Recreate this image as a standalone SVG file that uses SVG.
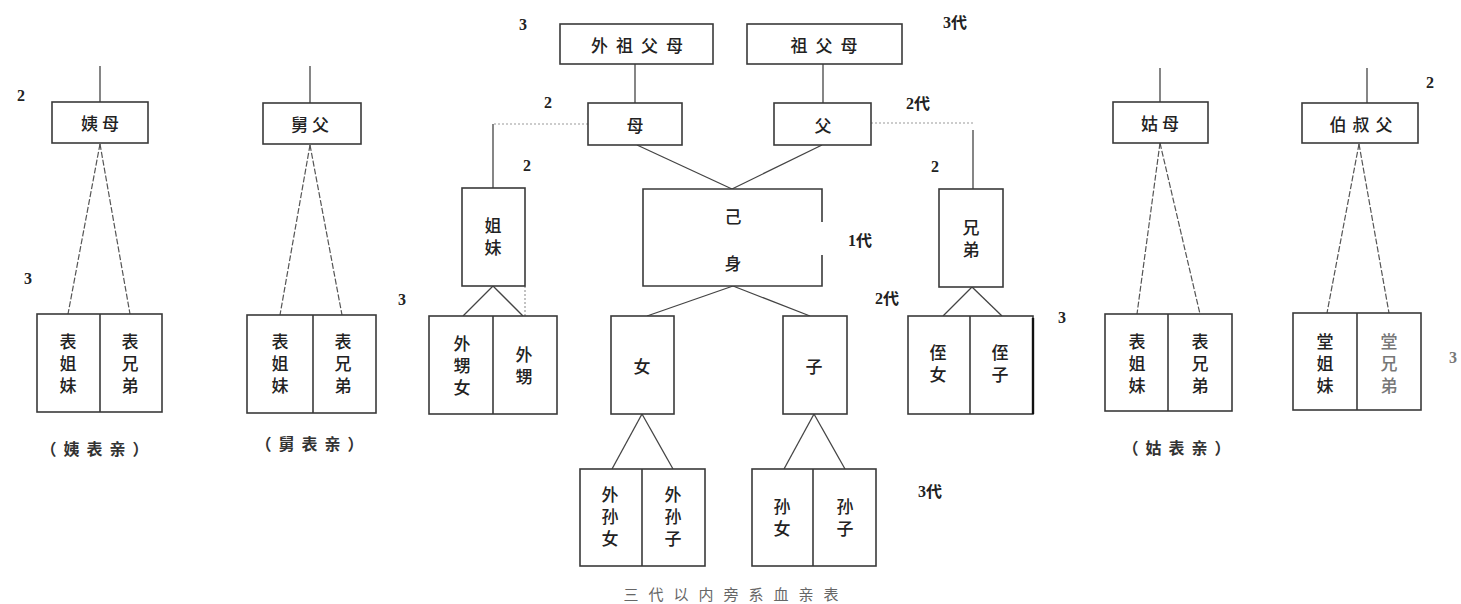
<svg xmlns="http://www.w3.org/2000/svg" width="1461" height="604" viewBox="0 0 1461 604">
<style>
.box{fill:#fff;stroke:#3a3a3a;stroke-width:1.6}
.ln{stroke:#444;stroke-width:1.3;fill:none}
.dash{stroke:#555;stroke-width:1.2;fill:none;stroke-dasharray:6 2}
.dot{stroke:#9a9a9a;stroke-width:1.2;fill:none;stroke-dasharray:2 2}
.t{font-family:"Noto Sans CJK SC","Noto Sans CJK JP",sans-serif;font-size:17px;font-weight:500;fill:#222;text-anchor:middle;dominant-baseline:central}
.v{writing-mode:vertical-rl;letter-spacing:5px}
.h{letter-spacing:8px}
.n{font-family:"Liberation Serif","Noto Sans CJK SC",serif;font-weight:bold;font-size:16px;fill:#222;text-anchor:middle;dominant-baseline:central}
.c{font-family:"Noto Sans CJK SC",sans-serif;font-size:16px;font-weight:bold;fill:#333;text-anchor:middle;dominant-baseline:central;letter-spacing:7px}
.cap{font-family:"Noto Sans CJK SC",sans-serif;font-size:15px;fill:#666;text-anchor:middle;dominant-baseline:central;letter-spacing:10px}
.lt{fill:#777}
</style>

<g id="connectors">
  <line class="ln" x1="100" y1="66" x2="100" y2="102"/>
  <line class="ln" x1="310" y1="66" x2="310" y2="103" stroke="#888"/>
  <line class="ln" x1="1160" y1="68" x2="1160" y2="102"/>
  <line class="ln" x1="1367" y1="68" x2="1367" y2="103"/>
  <line class="ln" x1="635" y1="64" x2="635" y2="103"/>
  <line class="ln" x1="823" y1="64" x2="823" y2="103"/>
  <line class="ln" x1="637" y1="145" x2="732" y2="189"/>
  <line class="ln" x1="822" y1="145" x2="732" y2="189"/>
  <line class="dot" x1="588" y1="124" x2="493" y2="124"/>
  <line class="ln" x1="493" y1="124" x2="493" y2="188"/>
  <line class="dot" x1="871" y1="123" x2="973" y2="123"/>
  <line class="ln" x1="973" y1="130" x2="973" y2="189"/>
  <line class="ln" x1="493" y1="286" x2="463" y2="316"/>
  <line class="ln" x1="493" y1="286" x2="523" y2="316"/>
  <line class="dot" x1="525" y1="286" x2="525" y2="316"/>
  <line class="ln" x1="972" y1="287" x2="943" y2="316"/>
  <line class="ln" x1="972" y1="287" x2="1002" y2="316"/>
  <line class="ln" x1="733" y1="286" x2="647" y2="316"/>
  <line class="ln" x1="733" y1="286" x2="810" y2="316"/>
  <line class="ln" x1="642" y1="414" x2="612" y2="469"/>
  <line class="ln" x1="642" y1="414" x2="673" y2="469"/>
  <line class="ln" x1="814" y1="414" x2="784" y2="469"/>
  <line class="ln" x1="814" y1="414" x2="845" y2="469"/>
  <line class="dash" x1="100" y1="144" x2="68" y2="314"/>
  <line class="dash" x1="100" y1="144" x2="130" y2="314"/>
  <line class="dash" x1="310" y1="145" x2="280" y2="315"/>
  <line class="dash" x1="310" y1="145" x2="342" y2="315"/>
  <line class="dash" x1="1160" y1="143" x2="1137" y2="314"/>
  <line class="dash" x1="1160" y1="143" x2="1200" y2="314"/>
  <line class="dash" x1="1359" y1="144" x2="1327" y2="313"/>
  <line class="dash" x1="1359" y1="144" x2="1389" y2="313"/>
</g>

<g id="labels">
  <text class="n" x="21" y="95">2</text>
  <text class="n" x="28" y="278">3</text>
  <text class="n" x="402" y="299">3</text>
  <text class="n" x="523" y="24">3</text>
  <text class="n" x="548" y="102">2</text>
  <text class="n" x="527" y="165">2</text>
  <text class="n" x="955" y="22">3代</text>
  <text class="n" x="918" y="103">2代</text>
  <text class="n" x="860" y="240">1代</text>
  <text class="n" x="935" y="166">2</text>
  <text class="n" x="887" y="298">2代</text>
  <text class="n" x="1062" y="317">3</text>
  <text class="n" x="930" y="491">3代</text>
  <text class="n" x="1430" y="82">2</text>
  <text class="n lt" x="1453" y="357" font-weight="normal">3</text>
</g>

<g id="yimu"><rect class="box" x="52" y="102" width="96" height="41"/><text class="t" x="102" y="122" letter-spacing="4">姨母</text></g>
<g id="yibiao">
  <rect class="box" x="37" y="314" width="125" height="98"/><line class="box" x1="100" y1="314" x2="100" y2="412"/>
  <text class="t v" x="68" y="366">表姐妹</text>
  <text class="t v" x="130" y="366">表兄弟</text>
</g>
<text class="c" x="98" y="448">（姨表亲）</text>

<g id="jiufu"><rect class="box" x="263" y="103" width="98" height="41"/><text class="t" x="312" y="123" letter-spacing="4">舅父</text></g>
<g id="jiubiao">
  <rect class="box" x="247" y="315" width="129" height="98"/><line class="box" x1="313" y1="315" x2="313" y2="413"/>
  <text class="t v" x="280" y="366">表姐妹</text>
  <text class="t v" x="343" y="366">表兄弟</text>
</g>
<text class="c" x="313" y="443">（舅表亲）</text>

<g id="waizufumu"><rect class="box" x="560" y="24" width="153" height="40"/><text class="t h" x="641" y="44">外祖父母</text></g>
<g id="zufumu"><rect class="box" x="747" y="24" width="155" height="40"/><text class="t h" x="828" y="44">祖父母</text></g>
<g id="mu"><rect class="box" x="588" y="103" width="94" height="42"/><text class="t" x="635" y="124">母</text></g>
<g id="fu"><rect class="box" x="774" y="103" width="97" height="42"/><text class="t" x="823" y="124">父</text></g>

<g id="jiemei"><rect class="box" x="462" y="188" width="63" height="98"/>
  <text class="t v" x="493" y="239" letter-spacing="6">姐妹</text></g>
<g id="jishen"><path class="box" d="M822,222 V189 H643 V286 H822 V255"/>
  <text class="t" x="733" y="215">己</text><text class="t" x="733" y="262">身</text></g>
<g id="xiongdi"><rect class="box" x="939" y="189" width="64" height="98"/>
  <text class="t v" x="971" y="241.5" letter-spacing="5">兄弟</text></g>

<g id="waisheng">
  <rect class="box" x="429" y="316" width="128" height="98"/><line class="box" x1="493" y1="316" x2="493" y2="414"/>
  <text class="t v" x="462" y="368" letter-spacing="6">外甥女</text>
  <text class="t v" x="524" y="368.5" letter-spacing="8">外甥</text>
</g>
<g id="nv"><rect class="box" x="611" y="316" width="63" height="98"/><text class="t" x="642" y="365">女</text></g>
<g id="zi"><rect class="box" x="783" y="316" width="64" height="98"/><text class="t" x="814" y="365">子</text></g>
<g id="zhi">
  <rect class="box" x="908" y="316" width="125" height="98"/><line class="box" x1="970" y1="316" x2="970" y2="414"/>
  <line x1="1033" y1="318" x2="1033" y2="414" stroke="#111" stroke-width="2.4"/>
  <text class="t v" x="938" y="366.5">侄女</text>
  <text class="t v" x="1000" y="366.5">侄子</text>
</g>

<g id="waisun">
  <rect class="box" x="580" y="469" width="125" height="97"/><line class="box" x1="642" y1="469" x2="642" y2="566"/>
  <text class="t v" x="610" y="519.5" letter-spacing="7">外孙女</text>
  <text class="t v" x="673" y="519.5" letter-spacing="7">外孙子</text>
</g>
<g id="sun">
  <rect class="box" x="752" y="469" width="124" height="97"/><line class="box" x1="813" y1="469" x2="813" y2="566"/>
  <text class="t v" x="782" y="520" letter-spacing="4">孙女</text>
  <text class="t v" x="845" y="520" letter-spacing="4">孙子</text>
</g>

<g id="gumu"><rect class="box" x="1113" y="102" width="95" height="41"/><text class="t" x="1162" y="122" letter-spacing="4">姑母</text></g>
<g id="gubiao">
  <rect class="box" x="1105" y="314" width="127" height="97"/><line class="box" x1="1168" y1="314" x2="1168" y2="411"/>
  <text class="t v" x="1137" y="366">表姐妹</text>
  <text class="t v" x="1200" y="366">表兄弟</text>
</g>
<text class="c" x="1180" y="447">（姑表亲）</text>

<g id="boshufu"><rect class="box" x="1302" y="103" width="116" height="40"/><text class="t" x="1364" y="123" letter-spacing="6">伯叔父</text></g>
<g id="tang">
  <rect class="box" x="1293" y="313" width="128" height="97"/><line class="box" x1="1357" y1="313" x2="1357" y2="410"/>
  <text class="t v" x="1325" y="366">堂姐妹</text>
  <text class="t v lt" x="1389" y="366" font-weight="normal">堂兄弟</text>
</g>

<text class="cap" x="736" y="593">三代以内旁系血亲表</text>
</svg>
